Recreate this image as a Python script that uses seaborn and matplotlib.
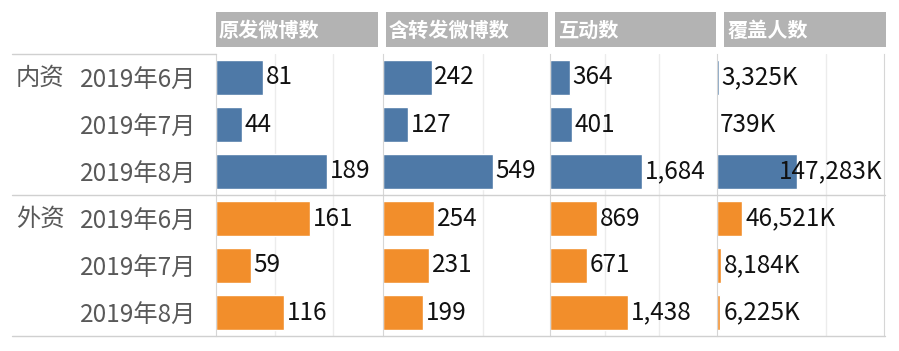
import pandas as pd
import seaborn as sns
import matplotlib.pyplot as plt
from matplotlib.patches import Rectangle
from matplotlib.lines import Line2D

# 数据
groups = ['内资', '内资', '内资', '外资', '外资', '外资']
months = ['2019年6月', '2019年7月', '2019年8月', '2019年6月', '2019年7月', '2019年8月']
yuanfa = [81, 44, 189, 161, 59, 116]
hanzhuanfa = [242, 127, 549, 254, 231, 199]
hudong = [364, 401, 1684, 869, 671, 1438]
fugai_k = [3325, 739, 147283, 46521, 8184, 6225]

titles = ['原发微博数', '含转发微博数', '互动数', '覆盖人数']
cols = ['yuanfa', 'hanzhuanfa', 'hudong', 'fugai']

df = pd.DataFrame({'group': groups, 'month': months, 'yuanfa': yuanfa,
                   'hanzhuanfa': hanzhuanfa, 'hudong': hudong, 'fugai': fugai_k})
df['row'] = df['group'] + df['month']

sns.set_style('white')
plt.rcParams['font.family'] = ['Noto Sans CJK SC', 'DejaVu Sans']

W, H = 899, 351
fig = plt.figure(figsize=(W / 100, H / 100), dpi=100)

def fx(x):
    return x / W

def fy(y):
    return 1 - y / H

palette = {'内资': '#4e79a7', '外资': '#f28e2b'}
xmaxes = [285, 833, 3060, 307500]
grids = [[100, 200], [500], [1000, 2000], [200000]]
starts = [216, 383, 550, 717]
pw = 167
top, bottom = 54, 336
header_x = [(216, 378), (386, 548), (555, 716), (724, 886)]
fs = 17.5

axes = []
texts = []
for i, col in enumerate(cols):
    ax = fig.add_axes([fx(starts[i]), fy(bottom), pw / W, (bottom - top) / H])
    sns.barplot(data=df, x=col, y='row', hue='group', palette=palette,
                dodge=False, legend=False, width=0.74, saturation=1, ax=ax)
    ax.set_xlim(0, xmaxes[i])
    ax.set_ylim(5.5, -0.5)
    for g in grids[i]:
        ax.axvline(g, color='#ececec', lw=1, zorder=0)
    ax.set_xticks([])
    ax.set_xlabel('')
    ax.set_ylabel('')
    for s in ['top', 'bottom']:
        ax.spines[s].set_visible(False)
    ax.spines['left'].set_color('#d6d6d6')
    ax.spines['right'].set_color('#d6d6d6')
    ax.spines['right'].set_visible(i == len(cols) - 1)
    if i == 0:
        ax.set_yticks(range(6))
        ax.set_yticklabels(months, fontsize=fs, color='#595959')
        ax.tick_params(axis='y', length=0, pad=14)
    else:
        ax.set_yticks([])
    for j, v in enumerate(df[col]):
        lab = f'{v:,}K' if col == 'fugai' else f'{v:,}'
        t = ax.annotate(lab, (v, j), xytext=(2, 0), textcoords='offset points',
                        va='center', ha='left', fontsize=fs, color='#111111')
        texts.append((ax, t, j))
    axes.append(ax)

    # 表头
    x0, x1 = header_x[i]
    fig.add_artist(Rectangle((fx(x0), fy(47)), (x1 - x0) / W, 35 / H,
                             transform=fig.transFigure, color='#b3b3b3', lw=0))
    fig.text(fx(x0 + 3), fy(30), titles[i], color='white', fontsize=14.5,
             fontweight='bold', va='center', ha='left')

# 标签超出面板时右对齐
fig.canvas.draw()
r = fig.canvas.get_renderer()
for ax, t, j in texts:
    bb = t.get_window_extent(r)
    abb = ax.get_window_extent(r)
    if bb.x1 > abb.x1:
        t.xy = (ax.get_xlim()[1], j)
        t.xyann = (-1, 0)
        t.set_ha('right')

# 分组标签
fig.text(fx(40), fy(78), '内资', fontsize=fs, color='#595959', ha='center', va='center')
fig.text(fx(40), fy(219), '外资', fontsize=fs, color='#595959', ha='center', va='center')

# 分隔线
lc = '#d0d0d0'
fig.add_artist(Line2D([fx(12), fx(216)], [fy(54), fy(54)], color=lc, lw=1))
fig.add_artist(Line2D([fx(12), fx(885)], [fy(195), fy(195)], color=lc, lw=1))
fig.add_artist(Line2D([fx(12), fx(885)], [fy(336), fy(336)], color=lc, lw=1))

plt.savefig('out.png', dpi=100)
